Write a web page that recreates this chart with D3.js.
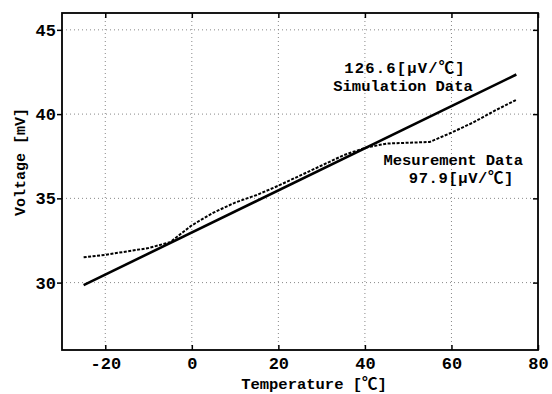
<!DOCTYPE html>
<html>
<head>
<meta charset="utf-8">
<script src="https://cdn.jsdelivr.net/npm/d3@7"></script>
<style>
  body { margin: 0; background: white; }
  svg text { font-family: "Liberation Mono", "Noto Sans CJK JP", monospace; font-weight: bold; fill: #000; }
  .tick text { font-size: 17px; }
  .grid line { stroke: #888; stroke-dasharray: 1,3; stroke-width: 1; }
</style>
</head>
<body>
<div id="chart"></div>
<script>
// simulation line (straight)
const simTemps = [-25, 75];
const simVolts = [29.85, 42.35];

// measured data (dashed)
const measTemps = [-25, -20, -15, -10, -5, -2, 0, 5, 10, 15, 20, 25, 30, 35, 40, 45, 50, 55, 60, 65, 70, 75];
const measVolts = [31.5, 31.65, 31.85, 32.05, 32.4, 33.0, 33.4, 34.15, 34.75, 35.2, 35.75, 36.35, 36.95, 37.55, 38.0, 38.25, 38.3, 38.35, 38.9, 39.5, 40.2, 40.85];

const xTicks = [-20, 0, 20, 40, 60, 80];
const yTicks = [30, 35, 40, 45];

let width = 552;
let height = 394;
let padLeft = 62, padRight = 538, padTop = 13, padBot = 350;

let svg = d3.select('#chart')
    .append('svg')
    .attr('width', width)
    .attr('height', height);

let xScale = d3.scaleLinear().domain([-30, 80]).range([padLeft, padRight]);
let yScale = d3.scaleLinear().domain([26, 46]).range([padBot, padTop]);

// grid
svg.append('g')
    .attr('class', 'grid')
    .selectAll('line')
    .data(xTicks.filter(d => d < 80))
    .enter()
    .append('line')
    .attr('x1', d => xScale(d))
    .attr('x2', d => xScale(d))
    .attr('y1', padTop)
    .attr('y2', padBot);
svg.append('g')
    .attr('class', 'grid')
    .selectAll('line')
    .data(yTicks)
    .enter()
    .append('line')
    .attr('x1', padLeft)
    .attr('x2', padRight)
    .attr('y1', d => yScale(d))
    .attr('y2', d => yScale(d));

// axes: bottom/top/right ticks inward, left ticks outward
let fmt = d => String(d);
let xAxis = d3.axisBottom(xScale).tickValues(xTicks).tickSizeInner(-5).tickSizeOuter(0).tickPadding(7).tickFormat(fmt);
let yAxis = d3.axisLeft(yScale).tickValues(yTicks).tickSizeInner(5).tickSizeOuter(0).tickPadding(1).tickFormat(fmt);
let xTop = d3.axisTop(xScale).tickValues(xTicks).tickSizeInner(-5).tickSizeOuter(0).tickFormat('');
let yRight = d3.axisRight(yScale).tickValues(yTicks).tickSizeInner(-5).tickSizeOuter(0).tickFormat('');

svg.append('g').attr('transform', `translate(0,${padBot})`).call(xAxis);
svg.append('g').attr('transform', `translate(${padLeft},0)`).call(yAxis);
svg.append('g').attr('transform', `translate(0,${padTop})`).call(xTop);
svg.append('g').attr('transform', `translate(${padRight},0)`).call(yRight);

svg.selectAll('.domain').remove();
svg.selectAll('.tick line').attr('stroke', '#000').attr('stroke-width', 1.5);
svg.selectAll('.tick text').attr('fill', '#000');

// frame
svg.append('rect')
    .attr('x', padLeft)
    .attr('y', padTop)
    .attr('width', padRight - padLeft)
    .attr('height', padBot - padTop)
    .attr('fill', 'none')
    .attr('stroke', '#000')
    .attr('stroke-width', 1.8);

let line = d3.line()
    .x(d => xScale(d[0]))
    .y(d => yScale(d[1]));

svg.append('path')
    .datum(measTemps.map((t, i) => [t, measVolts[i]]))
    .attr('d', line)
    .attr('fill', 'none')
    .attr('stroke', '#000')
    .attr('stroke-width', 2)
    .attr('stroke-dasharray', '3,1.5');

svg.append('path')
    .datum(simTemps.map((t, i) => [t, simVolts[i]]))
    .attr('d', line)
    .attr('fill', 'none')
    .attr('stroke', '#000')
    .attr('stroke-width', 2.6);

// annotations
let ann = svg.append('g')
    .style('font-size', '15.5px');
ann.append('text').text('126.6[μV/℃]').attr('x', 405).attr('y', 73).attr('text-anchor', 'middle').style('letter-spacing', '1.2px');
ann.append('text').text('Simulation Data').attr('x', 403).attr('y', 91).attr('text-anchor', 'middle');
ann.append('text').text('Mesurement Data').attr('x', 523).attr('y', 165).attr('text-anchor', 'end');
ann.append('text').text('97.9[μV/℃]').attr('x', 514).attr('y', 183).attr('text-anchor', 'end').style('letter-spacing', '0.6px');

// axis titles
svg.append('text')
    .text('Temperature [℃]')
    .attr('x', 314)
    .attr('y', 389)
    .attr('text-anchor', 'middle')
    .style('font-size', '15.5px');

svg.append('text')
    .text('Voltage [mV]')
    .attr('transform', `translate(25,162)rotate(-90)`)
    .attr('text-anchor', 'middle')
    .style('font-size', '15px');
</script>
</body>
</html>
